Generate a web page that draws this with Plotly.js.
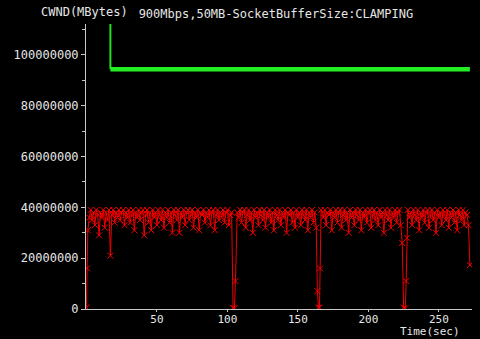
<!DOCTYPE html>
<html>
<head>
<meta charset="utf-8">
<script src="https://cdn.plot.ly/plotly-3.0.1.min.js"></script>
<style>html,body{margin:0;padding:0;background:#000;}#chart{width:480px;height:339px;}</style>
</head>
<body>
<div id="chart"></div>
<script>
// Title and axis labels
const chartTitle = "900Mbps,50MB-SocketBufferSize:CLAMPING";
const yAxisLabel = "CWND(MBytes)";
const xAxisLabel = "Time(sec)";
const xTickVals = [50, 100, 150, 200, 250];

// Green series (socket buffer size)
const greenTime = [17, 17, 272];
const greenCwnd = [125000000, 94400000, 94400000];

// Red series (CWND), values in millions
const redTime = [0,0.5,1,2,3,4,5,6,7,8,9,10,11,12,13,14,15,16,17,18,19,20,
21,22,23,24,25,26,27,28,29,30,31,32,33,34,35,36,37,38,39,40,
41,42,43,44,45,46,47,48,49,50,51,52,53,54,55,56,57,58,59,60,
61,62,63,64,65,66,67,68,69,70,71,72,73,74,75,76,77,78,79,80,
81,82,83,84,85,86,87,88,89,90,91,92,93,94,95,96,97,98,99,100,
101,102,103,104,105,105.7,107,108,109,110,111,112,113,114,115,116,117,118,119,120,
121,122,123,124,125,126,127,128,129,130,131,132,133,134,135,136,137,138,139,140,
141,142,143,144,145,146,147,148,149,150,151,152,153,154,155,156,157,158,159,160,
161,162,163,163.8,164.6,165.3,165.8,166.5,168,169,170,171,172,173,174,175,176,177,178,179,180,
181,182,183,184,185,186,187,188,189,190,191,192,193,194,195,196,197,198,199,200,
201,202,203,204,205,206,207,208,209,210,211,212,213,214,215,216,217,218,219,220,
221,222,223,224,225,226.2,226.8,227.5,228,229,230,231,232,233,234,235,236,237,238,239,240,
241,242,243,244,245,246,247,248,249,250,251,252,253,254,255,256,257,258,259,260,
261,262,263,264,265,266,267,268,269,270,271,272];
const redCwndM = [0.5,16,31,36,39,35,38,33,39,37,29,38,36,39,32,38,35,39,21,37,39,34,
38,36,39,35,38,39,33,38,36,39,34,37,39,31,38,36,39,35,38,39,
29,37,39,34,38,31,39,36,38,33,39,37,35,39,32,38,36,39,34,38,
30,39,37,35,39,30,38,36,39,33,38,39,35,37,39,32,38,36,39,31,
38,37,39,34,38,36,39,33,38,39,31,37,39,35,38,36,39,34,38,39,
33,37,38,0.5,0.3,11,38,36,39,34,38,39,32,37,39,35,38,30,39,36,
38,33,39,37,35,39,32,38,36,39,34,38,31,39,37,35,39,33,38,36,
39,30,38,37,39,34,38,32,39,36,38,33,39,37,35,39,31,38,36,39,
34,38,32,7,0.5,0.5,16,39,36,39,33,38,37,39,31,38,36,39,34,38,39,
32,37,39,35,38,30,39,36,38,33,39,37,35,39,31,38,36,39,34,38,
39,32,37,39,35,38,33,39,36,38,30,39,37,35,39,32,38,36,39,34,
38,39,33,26,0.5,0.3,11,28,39,36,38,33,39,37,35,39,31,38,36,39,34,
38,39,32,37,39,35,38,30,39,36,38,33,39,37,35,39,32,38,36,39,
34,38,31,39,37,35,39,33,38,37,33,17.3];
const redCwnd = redCwndM.map(v => v * 1e6);

const fontFam = "DejaVu Sans Mono, monospace";
const txtCol = "#e6e6e6";
const axCol = "#c8c8c8";

const traces = [
  {x: redTime, y: redCwnd, type: "scatter", mode: "lines+markers",
   line: {color: "rgb(240,0,0)", width: 1},
   marker: {symbol: "x-thin-open", size: 6, color: "rgb(240,0,0)", line: {color: "rgb(240,0,0)", width: 1}},
   hoverinfo: "skip"},
  {x: greenTime.slice(0, 2), y: greenCwnd.slice(0, 2), type: "scatter", mode: "lines",
   line: {color: "#22dd22", width: 2}, hoverinfo: "skip"},
  {x: greenTime.slice(1), y: greenCwnd.slice(1), type: "scatter", mode: "lines",
   line: {color: "#22ee22", width: 4.5}, hoverinfo: "skip"}
];

const layout = {
  width: 480, height: 339,
  paper_bgcolor: "#000", plot_bgcolor: "#000",
  showlegend: false,
  margin: {l: 86, r: 8, t: 24, b: 30},
  font: {family: fontFam, size: 12, color: txtCol},
  title: {text: chartTitle, x: 0.492, xref: "paper", xanchor: "center", y: 0.958, yanchor: "middle",
          font: {family: fontFam, size: 12, color: txtCol}},
  xaxis: {range: [-0.3, 273.5], showgrid: false, zeroline: false,
          showline: true, linecolor: axCol, linewidth: 1,
          ticks: "outside", ticklen: 2, tickcolor: axCol,
          tickmode: "array", tickvals: xTickVals, ticklabelstandoff: -2,
          tickfont: {family: fontFam, size: 11, color: txtCol}},
  yaxis: {range: [0, 112.2e6], showgrid: false, zeroline: false,
          showline: true, linecolor: axCol, linewidth: 1,
          ticks: "outside", ticklen: 4, tickcolor: axCol,
          dtick: 20e6, tick0: 0, tickformat: "d",
          minor: {dtick: 10e6, ticks: "outside", ticklen: 3, tickcolor: axCol, showgrid: false},
          tickfont: {family: fontFam, size: 12, color: txtCol}},
  annotations: [
    {text: yAxisLabel, xref: "paper", yref: "paper", x: -0.005, y: 1.042,
     xanchor: "center", yanchor: "middle", showarrow: false,
     font: {family: fontFam, size: 12, color: txtCol}},
    {text: xAxisLabel, xref: "paper", yref: "paper", x: 0.891, y: -0.1053,
     xanchor: "center", yanchor: "bottom", showarrow: false, borderpad: 0,
     font: {family: fontFam, size: 11, color: txtCol}}
  ]
};

Plotly.newPlot("chart", traces, layout, {displayModeBar: false, staticPlot: true});
</script>
</body>
</html>
